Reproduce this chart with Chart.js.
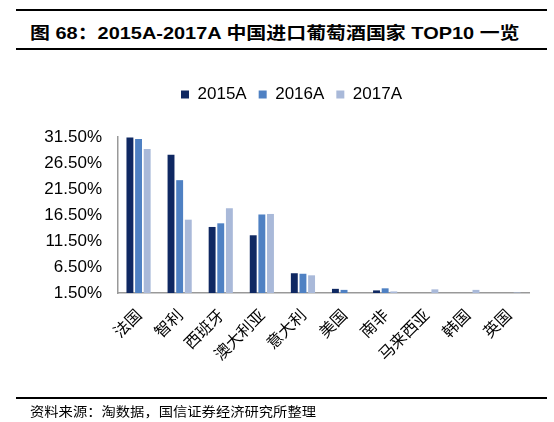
<!DOCTYPE html>
<html><head><meta charset="utf-8">
<script src="https://cdn.jsdelivr.net/npm/chart.js@4/dist/chart.umd.min.js"></script>
<style>
html,body{margin:0;padding:0;background:#fff;width:554px;height:422px;overflow:hidden;position:relative;}
.hline{position:absolute;left:16px;width:531px;background:#000;}
#title{position:absolute;left:30px;top:19px;white-space:nowrap;font:bold 17px "Liberation Sans","Noto Sans CJK SC",sans-serif;color:#000;transform-origin:0 0;}
#source{position:absolute;left:30px;top:401px;white-space:nowrap;font:13px "Noto Sans CJK SC",sans-serif;color:#000;transform-origin:0 0;}
#wrap{position:absolute;left:0;top:0;width:554px;height:422px;}
</style></head>
<body>
<div class="hline" style="top:9px;height:2px"></div>
<div id="title">图 68：2015A-2017A 中国进口葡萄酒国家 TOP10 一览</div>
<div class="hline" style="top:48px;height:2px"></div>
<div id="wrap"><canvas id="c"></canvas></div>
<div class="hline" style="top:397px;height:2px"></div>
<div id="source">资料来源：淘数据，国信证券经济研究所整理</div>
<script>
const categories = ['法国','智利','西班牙','澳大利亚','意大利','美国','南非','马来西亚','韩国','英国'];
const seriesNames = ['2015A','2016A','2017A'];
const values2015 = [31.4, 28.1, 14.2, 12.6, 5.3, 2.3, 2.0, null, null, null];
const values2016 = [31.1, 23.2, 14.9, 16.6, 5.2, 2.1, 2.4, null, null, null];
const values2017 = [29.2, 15.6, 17.8, 16.7, 4.9, null, 1.8, 2.2, 2.1, 1.6];
const yMin = 1.5, yMax = 31.5, yStep = 5;

function fit(id, w){const el=document.getElementById(id);const s=w/el.offsetWidth;el.style.transform='scaleX('+s+')';}
fit('title', 490);
fit('source', 286);

const legendGap = {
  id: 'legendGap',
  beforeInit(chart){
    const lg = chart.legend;
    const origFit = lg.fit;
    lg.fit = function(){ origFit.call(this); this.height += 24; };
    const origDraw = lg.draw;
    lg.draw = function(){ const c = this.ctx; c.save(); c.translate(27, 0); origDraw.call(this); c.restore(); };
  }
};

const colors = ['#0f2862','#4f81c3','#a9b9d9'];
new Chart(document.getElementById('c'), {
  type: 'bar',
  data: {
    labels: categories,
    datasets: [values2015, values2016, values2017].map((d,i)=>({
      label: seriesNames[i], data: d, backgroundColor: colors[i], borderWidth: 0,
      categoryPercentage: 0.63, barPercentage: 0.8
    }))
  },
  plugins: [legendGap],
  options: {
    responsive: true, maintainAspectRatio: false, animation: false,
    layout: {padding: {left: 0, right: 25, top: 74, bottom: 52}},
    plugins: {
      legend: {position: 'top', labels: {boxWidth: 8, boxHeight: 8, padding: 12, color: '#000',
        font: {family: '"Liberation Sans", Arial, sans-serif', size: 17}}},
      tooltip: {enabled: false}
    },
    scales: {
      x: {
        grid: {display: false, drawTicks: false},
        border: {color: '#999', width: 1.5},
        ticks: {minRotation: 45, maxRotation: 45, padding: 12, color: '#000',
          font: {family: '"Noto Sans CJK SC", sans-serif', size: 16}},
        afterFit: s => { s.height = 77; }
      },
      y: {
        min: yMin, max: yMax,
        grid: {display: false, drawTicks: false},
        border: {color: '#999', width: 1.5},
        ticks: {stepSize: yStep, padding: 16, color: '#000',
          font: {family: '"Liberation Sans", Arial, sans-serif', size: 17},
          callback: v => v.toFixed(2) + '%'},
        afterFit: s => { s.width = 118; }
      }
    }
  }
});
</script>
</body></html>
